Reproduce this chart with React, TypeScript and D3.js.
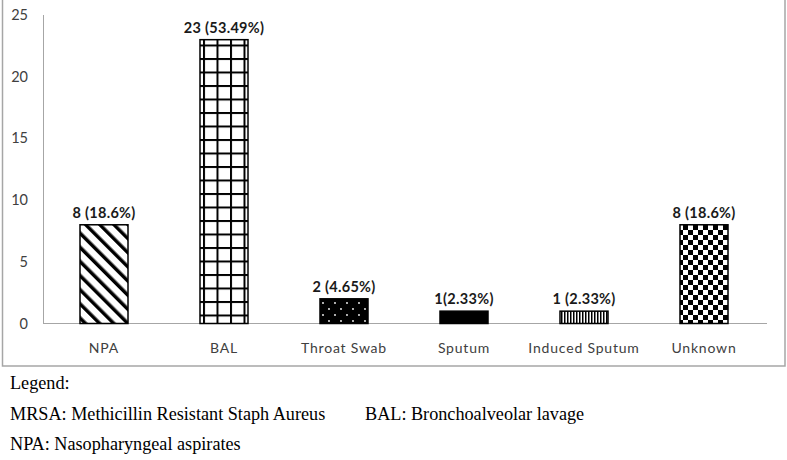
import { useEffect, useRef } from "react";
import * as d3 from "d3";

const categories = ["NPA", "BAL", "Throat Swab", "Sputum", "Induced Sputum", "Unknown"];
const counts = [8, 23, 2, 1, 1, 8];
const barLabels = ["8 (18.6%)", "23 (53.49%)", "2 (4.65%)", "1(2.33%)", "1 (2.33%)", "8 (18.6%)"];
const patternIds = ["diag", "grid", "dots", "solid", "vert", "check"];
const yTicks = [0, 5, 10, 15, 20, 25];
const legendLines = [
  "Legend:",
  "MRSA: Methicillin Resistant Staph Aureus",
  "NPA: Nasopharyngeal aspirates",
];
const legendExtra = "BAL: Bronchoalveolar lavage";

export default function App() {
  const svgRef = useRef<SVGSVGElement | null>(null);
  const width = 787;
  const height = 460;

  useEffect(() => {
    const svg = d3.select(svgRef.current);
    svg.selectAll("*").remove();

    const defs = svg.append("defs");

    // diagonal hatch, top-left to bottom-right
    const diag = defs.append("pattern").attr("id", "diag").attr("patternUnits", "userSpaceOnUse")
      .attr("width", 10).attr("height", 10).attr("patternTransform", "rotate(-45)");
    diag.append("rect").attr("width", 10).attr("height", 10).attr("fill", "white");
    diag.append("rect").attr("x", 0).attr("width", 3.5).attr("height", 10).attr("fill", "black");

    // grid
    const grid = defs.append("pattern").attr("id", "grid").attr("patternUnits", "userSpaceOnUse")
      .attr("width", 13.5).attr("height", 13.5).attr("x", 203).attr("y", 31);
    grid.append("rect").attr("width", 13.5).attr("height", 13.5).attr("fill", "white");
    grid.append("rect").attr("width", 2).attr("height", 13.5).attr("fill", "black");
    grid.append("rect").attr("width", 13.5).attr("height", 2).attr("fill", "black");

    // dots on black
    const dots = defs.append("pattern").attr("id", "dots").attr("patternUnits", "userSpaceOnUse")
      .attr("width", 12).attr("height", 12).attr("x", 320).attr("y", 300);
    dots.append("rect").attr("width", 12).attr("height", 12).attr("fill", "black");
    dots.append("circle").attr("cx", 3).attr("cy", 3).attr("r", 0.9).attr("fill", "white");
    dots.append("circle").attr("cx", 9).attr("cy", 9).attr("r", 0.9).attr("fill", "white");

    // solid
    const solid = defs.append("pattern").attr("id", "solid").attr("patternUnits", "userSpaceOnUse")
      .attr("width", 4).attr("height", 4);
    solid.append("rect").attr("width", 4).attr("height", 4).attr("fill", "black");

    // vertical stripes
    const vert = defs.append("pattern").attr("id", "vert").attr("patternUnits", "userSpaceOnUse")
      .attr("width", 3).attr("height", 3);
    vert.append("rect").attr("width", 3).attr("height", 3).attr("fill", "white");
    vert.append("rect").attr("width", 1.5).attr("height", 3).attr("fill", "black");

    // checkerboard
    const check = defs.append("pattern").attr("id", "check").attr("patternUnits", "userSpaceOnUse")
      .attr("width", 10).attr("height", 10).attr("x", 683).attr("y", 225);
    check.append("rect").attr("width", 10).attr("height", 10).attr("fill", "white");
    check.append("rect").attr("width", 5).attr("height", 5).attr("fill", "black");
    check.append("rect").attr("x", 5).attr("y", 5).attr("width", 5).attr("height", 5).attr("fill", "black");

    // frame
    svg.append("rect").attr("x", 2.5).attr("y", -5).attr("width", 782.5).attr("height", 371)
      .attr("fill", "none").attr("stroke", "#a6a6a6").attr("stroke-width", 1.5);

    const x = d3.scaleBand().domain(categories).range([44, 764]).paddingInner(0.6).paddingOuter(0.3);
    const y = d3.scaleLinear().domain([0, 25]).range([323.5, 15]);

    // axes lines
    svg.append("line").attr("x1", 43.5).attr("x2", 43.5).attr("y1", y(25)).attr("y2", y(0))
      .attr("stroke", "#a6a6a6").attr("stroke-width", 1);
    svg.append("line").attr("x1", 43).attr("x2", 767).attr("y1", y(0)).attr("y2", y(0))
      .attr("stroke", "#a6a6a6").attr("stroke-width", 1.2);

    svg.append("g").selectAll("text").data(yTicks).join("text")
      .attr("x", 28).attr("y", (d) => y(d) + 5)
      .attr("text-anchor", "end")
      .attr("font-family", "Lato, sans-serif").attr("font-size", 14.5)
      .attr("fill", "#404040")
      .text((d) => d);

    const bars = categories.map((c, i) => ({ c, v: counts[i], label: barLabels[i], pat: patternIds[i] }));

    svg.append("g").selectAll("rect").data(bars).join("rect")
      .attr("x", (d) => x(d.c)!)
      .attr("width", x.bandwidth())
      .attr("y", (d) => y(d.v))
      .attr("height", (d) => y(0) - y(d.v))
      .attr("fill", (d) => `url(#${d.pat})`)
      .attr("stroke", "black").attr("stroke-width", 1.5);

    svg.append("g").selectAll("text").data(bars).join("text")
      .attr("x", (d) => x(d.c)! + x.bandwidth() / 2)
      .attr("y", (d) => y(d.v) - 7)
      .attr("text-anchor", "middle")
      .attr("font-family", "Lato, sans-serif").attr("font-weight", "bold").attr("font-size", 14.5)
      .attr("letter-spacing", 0.3)
      .attr("fill", "#1a1a1a")
      .text((d) => d.label);

    svg.append("g").selectAll("text").data(categories).join("text")
      .attr("x", (d) => x(d)! + x.bandwidth() / 2)
      .attr("y", 353)
      .attr("text-anchor", "middle")
      .attr("font-family", "Lato, sans-serif").attr("font-size", 14)
      .attr("letter-spacing", 0.8)
      .attr("fill", "#404040")
      .text((d) => d);

    const legend = svg.append("g").attr("font-family", "'Liberation Serif', serif").attr("font-size", 18.2).attr("fill", "#000");
    legend.selectAll("text").data(legendLines).join("text")
      .attr("x", 10).attr("y", (d, i) => 389 + i * 30.5)
      .text((d) => d);
    legend.append("text").attr("x", 365).attr("y", 419.5).text(legendExtra);
  }, []);

  return (
    <div style={{ position: "absolute", left: 0, top: 0 }}>
      <svg ref={svgRef} width={width} height={height} style={{ display: "block", background: "white" }} />
    </div>
  );
}
